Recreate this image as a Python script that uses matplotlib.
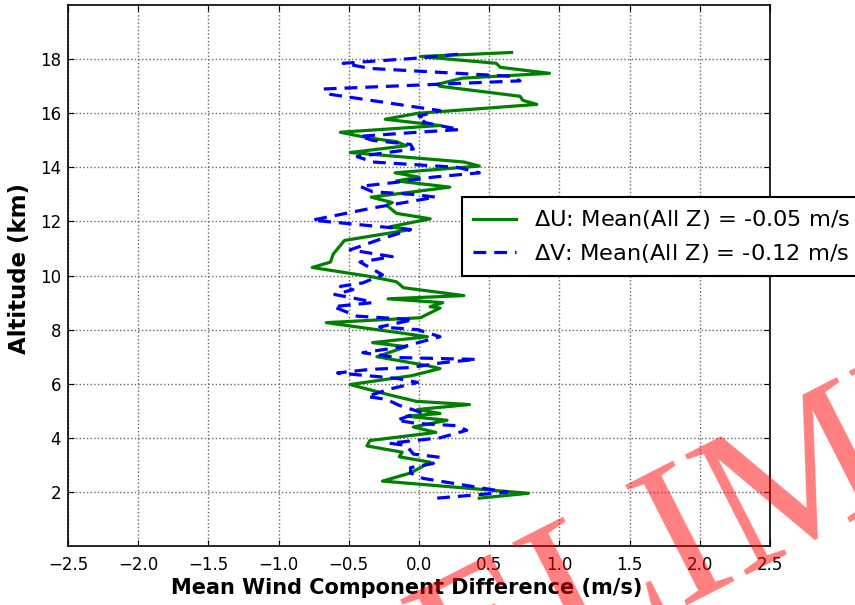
import matplotlib
matplotlib.use("Agg")
import matplotlib.pyplot as plt

# altitude (km) and mean wind component differences (m/s)
alt_u = [1.77, 1.95, 2.4, 2.7, 3.1, 3.3, 3.47, 3.7, 3.9, 4.2, 4.4, 4.65, 4.8, 4.9,
         5.05, 5.23, 5.35, 5.6, 5.97, 6.3, 6.56, 6.67, 7.0, 7.37, 7.52, 7.74, 8.26,
         8.44, 8.8, 8.85, 9.0, 9.14, 9.26, 9.55, 9.77, 9.96, 10.3, 10.5, 10.8, 11.3,
         11.7, 11.8, 12.1, 12.3, 12.6, 12.7, 12.9, 13.27, 13.5, 13.64, 13.8, 14.05,
         14.2, 14.55, 14.8, 14.95, 15.1, 15.3, 15.55, 15.78, 16.0, 16.33, 16.48,
         16.63, 17.0, 17.07, 17.3, 17.48, 17.7, 17.85, 18.1, 18.25]
du = [0.43, 0.78, -0.26, -0.06, 0.08, -0.14, -0.12, -0.37, -0.35, 0.12, -0.04, 0.2,
      -0.09, 0.15, -0.01, 0.36, -0.02, -0.22, -0.49, -0.05, 0.15, 0.06, -0.3, -0.09,
      -0.33, 0.06, -0.66, 0.01, 0.15, 0.08, 0.17, -0.22, 0.32, -0.11, -0.16, -0.34,
      -0.76, -0.63, -0.61, -0.53, -0.06, -0.21, 0.08, -0.16, -0.23, -0.19, -0.34,
      0.22, -0.16, 0.0, -0.17, 0.43, 0.32, -0.49, -0.09, -0.16, -0.37, -0.56, 0.15,
      -0.24, -0.01, 0.84, 0.74, 0.72, 0.15, 0.13, 0.31, 0.93, 0.58, 0.55, 0.01, 0.66]

alt_v = [1.77, 1.99, 2.5, 2.7, 2.9, 3.05, 3.28, 3.4, 3.72, 3.8, 4.0, 4.28, 4.45, 4.53,
         4.65, 4.95, 5.2, 5.42, 5.53, 5.8, 6.05, 6.2, 6.4, 6.53, 6.6, 6.78, 6.9, 6.97,
         7.15, 7.37, 7.74, 8.0, 8.1, 8.37, 8.5, 8.85, 9.0, 9.1, 9.3, 9.48, 9.6, 9.73,
         10.03, 10.5, 10.7, 10.95, 11.3, 11.7, 12.05, 12.5, 12.9, 13.0, 13.1, 13.3,
         13.45, 13.64, 13.8, 14.0, 14.2, 14.4, 14.68, 14.85, 15.0, 15.15, 15.3, 15.4,
         15.67, 15.8, 15.9, 16.1, 16.7, 16.9, 17.2, 17.37, 17.66, 17.85, 18.03, 18.2]
dv = [0.13, 0.63, 0.03, -0.06, -0.06, 0.10, 0.15, -0.04, -0.09, -0.21, 0.15, 0.34,
      0.27, -0.01, -0.16, 0.01, -0.14, -0.23, -0.37, -0.21, -0.01, -0.16, -0.58, -0.35,
      -0.06, 0.17, 0.41, -0.16, -0.40, -0.11, 0.15, -0.01, -0.28, -0.04, -0.44, -0.61,
      -0.33, -0.40, -0.60, -0.47, -0.56, -0.40, -0.26, -0.42, -0.19, -0.49, -0.30,
      -0.06, -0.76, -0.33, 0.12, -0.04, -0.33, -0.42, -0.16, 0.10, 0.43, 0.28, -0.33,
      -0.44, -0.04, -0.06, -0.33, -0.42, -0.01, 0.29, 0.03, 0.06, 0.0, 0.15, -0.63,
      -0.68, 0.72, 0.65, -0.35, -0.54, -0.04, 0.31]

label_u = r'$\Delta$U: Mean(All Z) = -0.05 m/s'
label_v = r'$\Delta$V: Mean(All Z) = -0.12 m/s'
x_ticks = [-2.5, -2.0, -1.5, -1.0, -0.5, 0.0, 0.5, 1.0, 1.5, 2.0, 2.5]
y_ticks = [2, 4, 6, 8, 10, 12, 14, 16, 18]

plt.rcParams['mathtext.fontset'] = 'dejavusans'
fig = plt.figure(figsize=(8.55, 6.05), dpi=100)
ax = fig.add_axes([0.0795, 0.0975, 0.821, 0.894])

ax.plot(du, alt_u, color='green', lw=2.3, label=label_u)
ax.plot(dv, alt_v, color='blue', lw=2.3, dashes=(4, 2.5), label=label_v)

ax.set_xlim(-2.5, 2.5)
ax.set_ylim(0, 20)
ax.set_xticks(x_ticks)
ax.set_yticks(y_ticks)
ax.tick_params(direction='in', top=True, right=True, length=4, labelsize=12)
ax.tick_params(axis='x', pad=7)
ax.tick_params(axis='y', pad=5)
ax.grid(True, color='0.4', linestyle=':', lw=1)
for s in ax.spines.values():
    s.set_linewidth(1.2)

ax.set_xlabel('Mean Wind Component Difference (m/s)', fontsize=15, fontweight='bold',
              labelpad=3, x=0.482)
ax.set_ylabel('Altitude (km)', fontsize=16.5, fontweight='bold', labelpad=6, y=0.513)

leg = ax.legend(loc='upper left', bbox_to_anchor=(0.561, 0.645), borderaxespad=0,
                fontsize=16.2, fancybox=False, framealpha=1, handlelength=1.9,
                borderpad=0.5, labelspacing=0.45)
leg.get_frame().set_edgecolor('black')
leg.get_frame().set_linewidth(1.5)

# watermark
fig.text(232 / 855, 1 - 834 / 605, 'PRELIMINARY', rotation=27, rotation_mode='anchor',
         ha='left', va='baseline', fontsize=148, family='Liberation Serif',
         color='red', alpha=0.5, zorder=10)

fig.savefig('out.png', dpi=100)
